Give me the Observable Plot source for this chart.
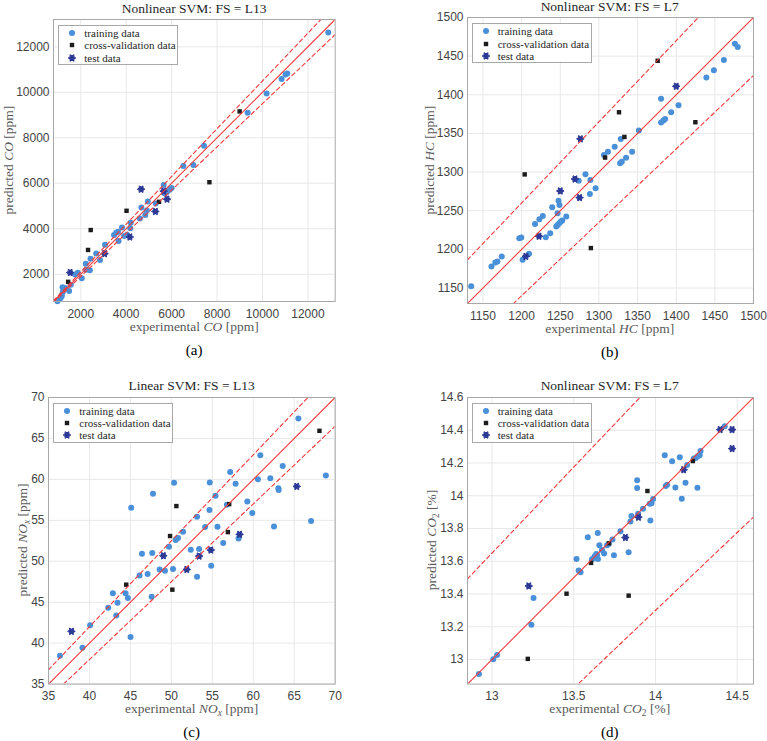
<!DOCTYPE html>
<html><head><meta charset="utf-8">
<script src="https://cdn.jsdelivr.net/npm/d3@7"></script>
<script src="https://cdn.jsdelivr.net/npm/@observablehq/plot@0.6"></script>
<style>
body{margin:0;background:#fff;}
#wrap{position:relative;width:767px;height:741px;overflow:hidden;background:#fff;}
#wrap svg.plot{position:absolute;}
.t{position:absolute;white-space:nowrap;transform:translate(-50%,-50%);font-family:"Liberation Serif","Times New Roman","DejaVu Serif",serif;line-height:1;}
.title{font-size:13.5px;color:#262626;}
.xl{font-size:13.5px;color:#5a5a5a;}
.yl{font-size:13.5px;color:#5a5a5a;transform:translate(-50%,-50%) rotate(-90deg);}
.cap{font-size:15px;color:#000;}
.leg{position:absolute;width:118px;height:38px;border:1px solid #a8a8a8;background:#fff;font-family:"Liberation Serif","Times New Roman","DejaVu Serif",serif;font-size:11px;color:#262626;}
.leg .row{position:absolute;left:0;height:12px;line-height:12px;white-space:nowrap;}
.leg svg{position:absolute;left:7px;top:0;}
.leg span{position:absolute;left:25px;top:0;}
sub{font-size:70%;line-height:0;vertical-align:-0.25em;}
</style></head>
<body><div id="wrap"></div>
<script>
// ---------------- DATA ----------------
// (a) CO [ppm]  [experimental, predicted]
const coTrain = [[974,809],[1092,926],[1150,1010],[1165,1074],[1209,1221],[1197,1430],[1311,1397],[1489,1260],[1562,1533],[1751,1985],[1870,2060],[2044,1820],[2220,2460],[2240,2200],[2400,2170],[2430,2680],[2680,2910],[2850,2620],[3068,3300],[3465,3721],[3560,3820],[3640,3870],[3665,3465],[3815,4050],[3910,3680],[4040,3730],[4180,4015],[4200,4265],[4600,4450],[4670,4930],[4840,4600],[4910,4800],[4950,5200],[5300,5110],[5650,5927],[5700,5550],[5780,5600],[5860,5680],[5930,5730],[6000,5790],[6516,6755],[6956,6799],[7425,7648],[9346,9099],[10182,9949],[10842,10579],[11018,10784],[11091,10828],[12895,12630]];
const coCV = [[1445,1664],[2321,3066],[2438,3942],[4015,4788],[5445,5182],[7664,6044],[8994,9158]];
const coTest = [[1533,2073],[3051,2905],[4161,3635],[4657,5737],[5285,4759],[5650,5650],[5796,5299]];
const coDomain = [800, 13200];
const coTicks = [2000, 4000, 6000, 8000, 10000, 12000];

// (b) HC [ppm]
const hcTrain = [[1134.8,1152.2],[1161,1178],[1166,1183],[1168.7,1184.4],[1174.3,1190.9],[1197,1214.5],[1199.6,1215.4],[1201.3,1186.6],[1209.6,1194.3],[1217.4,1233],[1223,1239],[1227.4,1243.3],[1231.3,1215.8],[1237,1221],[1239.6,1254.5],[1244.8,1229.6],[1246.5,1231.7],[1248.7,1233.9],[1250.9,1236],[1252.6,1237.3],[1246.5,1246.8],[1247.8,1263],[1249,1257.5],[1257.8,1242.5],[1273.9,1288.9],[1282.6,1297.1],[1289,1289.8],[1288.3,1271.7],[1295.7,1279],[1306.5,1322],[1311.7,1326.3],[1320.4,1332.8],[1328.3,1342.7],[1327.4,1311.3],[1329.6,1313.4],[1335.2,1318.6],[1343,1326.3],[1351.7,1353.8],[1380.4,1395],[1380.4,1364],[1383.5,1366.6],[1385.7,1368.8],[1393.5,1377.4],[1403,1386.4],[1439,1422.5],[1448.7,1431.6],[1461.7,1445],[1476,1466],[1479.6,1461.7]];
const hcCV = [[1204,1297],[1289.6,1201.7],[1308,1318.8],[1326,1377.4],[1333,1345.5],[1376,1444],[1424.8,1364.5]];
const hcTest = [[1205.5,1191],[1222.5,1217],[1250,1275.6],[1269,1291],[1275,1267],[1276,1343],[1400,1411]];
const hcDomain = [1130, 1500];
const hcTicks = [1150, 1200, 1250, 1300, 1350, 1400, 1450, 1500];

// (c) NOx [ppm]
const noxTrain = [[36.4,38.47],[39.14,39.45],[40.08,42.17],[45.02,40.75],[42.29,44.33],[43.27,43.39],[42.86,46.08],[43.43,44.94],[44.41,46.08],[44.69,45.51],[46.12,48.27],[47.1,48.44],[46.41,50.92],[47.67,51.0],[47.59,45.67],[48.57,49.0],[49.22,48.84],[50.2,49.05],[49.71,51.77],[50.53,52.59],[50.82,52.83],[51.43,53.6],[52.37,51.41],[53.39,51.49],[53.14,48.11],[54.86,49.45],[54.12,54.17],[53.14,55.43],[54.65,56.25],[55.39,58.0],[55.63,54.21],[56.33,52.22],[56.78,56.9],[58.2,52.79],[57.18,60.89],[57.84,59.46],[54.69,59.63],[50.33,59.58],[47.76,58.24],[45.1,56.53],[59.27,57.31],[59.88,55.88],[60.57,60.03],[60.86,62.96],[62.08,60.15],[62.53,54.26],[63.1,58.69],[63.06,58.93],[63.59,61.62],[65.51,67.44],[67.06,54.91],[68.86,60.48]];
const noxCV = [[44.49,47.14],[49.84,53.08],[50.12,46.53],[50.61,56.74],[56.9,53.56],[57.06,56.98],[68.08,65.93]];
const noxTest = [[37.8,41.44],[49.02,50.68],[51.88,49.0],[53.39,50.63],[54.82,51.37],[58.33,53.28],[65.31,59.14]];
const noxDomain = [35, 70];
const noxTicks = [35, 40, 45, 50, 55, 60, 65, 70];

// (d) CO2 [%]
const co2Train = [[12.92,12.912],[13.008,13.002],[13.031,13.027],[13.241,13.212],[13.254,13.376],[13.517,13.614],[13.53,13.543],[13.542,13.533],[13.612,13.612],[13.622,13.618],[13.628,13.631],[13.638,13.645],[13.643,13.639],[13.648,13.614],[13.657,13.698],[13.673,13.669],[13.686,13.647],[13.704,13.698],[13.714,13.706],[13.746,13.637],[13.836,13.655],[13.586,13.747],[13.647,13.773],[13.737,13.733],[13.786,13.784],[13.847,13.843],[13.853,13.876],[13.894,13.89],[13.924,13.92],[13.965,13.951],[13.976,13.955],[13.986,13.98],[13.969,13.849],[13.888,14.094],[13.888,14.047],[14.057,14.247],[14.063,14.059],[14.071,14.067],[14.102,14.21],[14.122,14.051],[14.149,14.235],[14.161,13.982],[14.184,14.08],[14.194,14.188],[14.235,14.227],[14.247,14.231],[14.259,14.241],[14.257,14.049],[14.271,14.247],[14.276,14.273],[14.424,14.424]];
const co2CV = [[13.219,13.004],[13.456,13.402],[13.606,13.59],[13.716,13.71],[13.836,13.39],[13.951,14.029],[14.229,14.212]];
const co2Test = [[13.225,13.449],[13.816,13.745],[13.896,13.869],[14.173,14.159],[14.396,14.404],[14.469,14.404],[14.469,14.288]];
const co2Domain = [12.85, 14.6];
const co2XTicks = [13, 13.5, 14, 14.5];
const co2YTicks = [13, 13.2, 13.4, 13.6, 13.8, 14, 14.2, 14.4, 14.6];

// reference lines: ideal (1) and +/-5 % band
const bandFactors = [0.95, 1, 1.05];
const seriesNames = ["training data", "cross-validation data", "test data"];

// ---------------- STYLE ----------------
const C_TRAIN = "#4a90d9", C_CV = "#1c1c1c", C_TEST = "#2b3896", C_RED = "#f23a3a";
const hexagram = {
  draw(ctx, size) {
    const R = Math.sqrt(size / Math.PI), ri = R / Math.sqrt(3);
    for (let i = 0; i < 12; i++) {
      const a = Math.PI / 6 * i, rr = i % 2 ? ri : R;
      const px = rr * Math.cos(a), py = rr * Math.sin(a);
      i ? ctx.lineTo(px, py) : ctx.moveTo(px, py);
    }
    ctx.closePath();
  }
};
const fmt = d => String(d);
const wrap = document.getElementById("wrap");

function addText(cls, html, x, y) {
  const d = document.createElement("div");
  d.className = "t " + cls; d.innerHTML = html;
  d.style.left = x + "px"; d.style.top = y + "px";
  wrap.appendChild(d);
}

function addLegend(x, y) {
  const box = document.createElement("div");
  box.className = "leg"; box.style.left = x + "px"; box.style.top = y + "px";
  const rows = [7, 19.3, 31.6];
  const shapes = [
    `<circle cx="6" cy="6" r="3" fill="${C_TRAIN}"/>`,
    `<rect x="3.8" y="3.8" width="4.4" height="4.4" fill="${C_CV}"/>`,
    `<path transform="translate(6,6)" d="${d3.symbol(hexagram, Math.PI * 3.8 * 3.8)()}" fill="${C_TEST}" stroke="${C_TEST}" stroke-width="1" stroke-linejoin="round"/>`
  ];
  seriesNames.forEach((name, i) => {
    const r = document.createElement("div");
    r.className = "row"; r.style.top = (rows[i] - 6) + "px"; r.style.width = "118px";
    r.innerHTML = `<svg width="12" height="12">${shapes[i]}</svg><span>${name}</span>`;
    box.appendChild(r);
  });
  wrap.appendChild(box);
}

function panel(p) {
  const toObj = a => a.map(([x, y]) => ({x, y}));
  const [lo, hi] = p.domain;
  const ML = 60, MT = 25, MR = 12, MB = 30;
  const marks = [
    Plot.ruleX(p.xticks, {stroke: "#e8e8e8"}),
    Plot.ruleY(p.yticks, {stroke: "#e8e8e8"}),
    Plot.dot(toObj(p.train), {x: "x", y: "y", r: 3, fill: C_TRAIN}),
    Plot.dot(toObj(p.cv), {x: "x", y: "y", symbol: "square", r: 2.5, fill: C_CV}),
    Plot.dot(toObj(p.test), {x: "x", y: "y", symbol: hexagram, r: 3.8, fill: C_TEST, stroke: C_TEST, strokeWidth: 1, strokeLinejoin: "round"})
  ];
  bandFactors.forEach(f => {
    marks.push(Plot.line([{x: lo, y: f * lo}, {x: hi, y: f * hi}], {
      x: "x", y: "y", stroke: C_RED, strokeWidth: 1.1, clip: true,
      strokeDasharray: f === 1 ? null : "4,3"
    }));
  });
  marks.push(Plot.frame({stroke: "#a8a8a8"}));
  const svg = Plot.plot({
    width: ML + p.w + MR, height: MT + p.h + MB,
    marginLeft: ML, marginTop: MT, marginRight: MR, marginBottom: MB,
    x: {domain: p.domain, ticks: p.xticks, tickFormat: fmt, tickSize: 0, tickPadding: 7.5, label: null},
    y: {domain: p.domain, ticks: p.yticks, tickFormat: fmt, tickSize: 0, tickPadding: 4, label: null},
    style: {background: "transparent", fontFamily: "'Liberation Sans', Arial, sans-serif", fontSize: "12px", color: "#444", overflow: "visible"},
    marks
  });
  svg.classList.add("plot");
  svg.style.left = (p.x0 - ML) + "px";
  svg.style.top = (p.y0 - MT) + "px";
  wrap.appendChild(svg);
  const cx = p.x0 + p.w / 2, cy = p.y0 + p.h / 2;
  addText("title", p.title, cx, p.y0 - 10.5);
  addText("xl", p.xlabel, cx, p.y0 + p.h + 26);
  addText("yl", p.ylabel, p.ylx, cy);
  addText("cap", p.cap, cx, p.y0 + p.h + 49);
  addLegend(p.x0 + 5, p.y0 + 6);
}

panel({x0: 53.3, y0: 19, w: 281.7, h: 282, domain: coDomain, xticks: coTicks, yticks: coTicks,
  train: coTrain, cv: coCV, test: coTest, title: "Nonlinear SVM: FS = L13",
  xlabel: "experimental <i>CO</i> [ppm]", ylabel: "predicted <i>CO</i> [ppm]", ylx: 9, cap: "(a)"});
panel({x0: 466.7, y0: 17.3, w: 286, h: 286, domain: hcDomain, xticks: hcTicks, yticks: hcTicks,
  train: hcTrain, cv: hcCV, test: hcTest, title: "Nonlinear SVM: FS = L7",
  xlabel: "experimental <i>HC</i> [ppm]", ylabel: "predicted <i>HC</i> [ppm]", ylx: 430, cap: "(b)"});
panel({x0: 48.3, y0: 396.7, w: 286.7, h: 286.6, domain: noxDomain, xticks: noxTicks, yticks: noxTicks,
  train: noxTrain, cv: noxCV, test: noxTest, title: "Linear SVM: FS = L13",
  xlabel: "experimental <i>NO<sub>x</sub></i> [ppm]", ylabel: "predicted <i>NO<sub>x</sub></i> [ppm]", ylx: 23, cap: "(c)"});
panel({x0: 466.7, y0: 396.7, w: 286, h: 286.6, domain: co2Domain, xticks: co2XTicks, yticks: co2YTicks,
  train: co2Train, cv: co2CV, test: co2Test, title: "Nonlinear SVM: FS = L7",
  xlabel: "experimental <i>CO</i><sub>2</sub> [%]", ylabel: "predicted <i>CO</i><sub>2</sub> [%]", ylx: 432, cap: "(d)"});
</script></body></html>
